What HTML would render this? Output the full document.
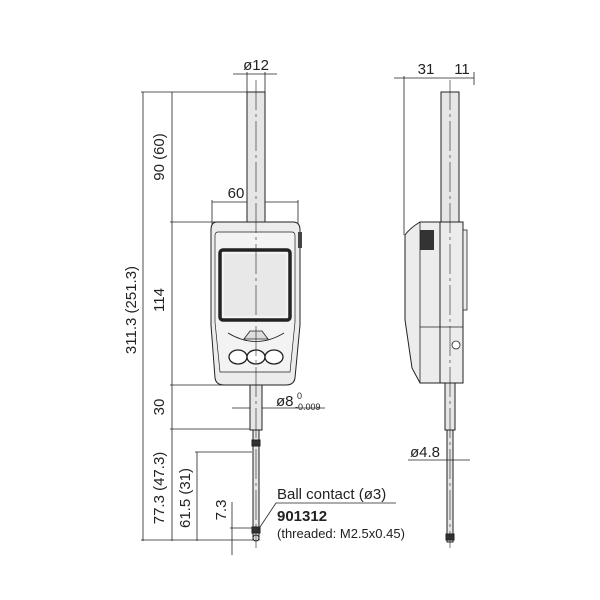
<!DOCTYPE html>
<html><head><meta charset="utf-8"><style>body{margin:0;background:#fff}svg{display:block}text{font-family:"Liberation Sans",sans-serif;fill:#222}</style></head><body>
<svg width="600" height="600" viewBox="0 0 600 600" stroke="#222" fill="none" stroke-width="1">
<!-- FRONT VIEW -->
<!-- dim lines -->
<line x1="143" y1="92" x2="143" y2="541" stroke-width="0.8"/>
<line x1="172" y1="92" x2="172" y2="541" stroke-width="0.8"/>
<line x1="141" y1="92" x2="265" y2="92" stroke-width="0.8"/>
<line x1="170" y1="222" x2="250" y2="222" stroke-width="0.8"/>
<line x1="170" y1="385" x2="250" y2="385" stroke-width="0.8"/>
<line x1="170" y1="429" x2="252" y2="429" stroke-width="0.8"/>
<line x1="141" y1="540" x2="258" y2="540" stroke-width="0.8"/>
<line x1="197" y1="452" x2="197" y2="541" stroke-width="0.8"/>
<line x1="195" y1="452" x2="252" y2="452" stroke-width="0.8"/>
<line x1="232" y1="502" x2="232" y2="555" stroke-width="0.8"/>
<line x1="230" y1="528" x2="255" y2="528" stroke-width="0.8"/>
<line x1="247" y1="72" x2="247" y2="92" stroke-width="0.8"/>
<line x1="265" y1="72" x2="265" y2="92" stroke-width="0.8"/>
<line x1="233" y1="74" x2="277" y2="74" stroke-width="0.8"/>
<line x1="212" y1="200" x2="212" y2="225" stroke-width="0.8"/>
<line x1="298" y1="200" x2="298" y2="225" stroke-width="0.8"/>
<line x1="212" y1="202" x2="298" y2="202" stroke-width="0.8"/>
<line x1="232" y1="408" x2="325" y2="408" stroke-width="0.8"/>
<!-- spindle -->
<rect x="247" y="92" width="18" height="130" fill="#e6e6e6"/>
<!-- body -->
<path d="M217 222 H293 Q300 222 300 230 V325 L295 378 Q294 385 286 385 H224 Q216 385 215 378 L211 325 V230 Q211 222 217 222Z" fill="#ececec"/>
<path d="M218 232 H292 Q295 232 295 236 V322 L290 372 H220 L215 322 V236 Q215 232 218 232Z" fill="#f3f3f3" stroke-width="0.7"/>
<rect x="220" y="250" width="70" height="70" fill="none" stroke-width="3.5" rx="3"/>
<rect x="224" y="254" width="62" height="62" fill="#e8e8e8" stroke="none"/>
<rect x="298" y="232" width="4" height="16" fill="#444" stroke="none"/>
<path d="M228 333 Q256 350 284 333" stroke-width="0.8"/>
<path d="M244 339 L250 331 H262 L268 339Z" fill="#ddd" stroke-width="0.8"/>
<ellipse cx="238" cy="357" rx="9" ry="7" fill="#fff" stroke-width="1.3"/>
<ellipse cx="256" cy="357" rx="9" ry="7" fill="#fff" stroke-width="1.3"/>
<ellipse cx="274" cy="357" rx="9" ry="7" fill="#fff" stroke-width="1.3"/>
<!-- lower -->
<rect x="250" y="385" width="12" height="45" fill="#e6e6e6"/>
<rect x="253" y="430" width="6" height="110" fill="#e6e6e6"/>
<rect x="252" y="440" width="8" height="6" fill="#333"/>
<rect x="252" y="527" width="8" height="6" fill="#333"/>
<circle cx="256" cy="538" r="3" fill="#e6e6e6"/>
<line x1="256" y1="80" x2="256" y2="548" stroke-width="0.6" stroke-dasharray="30 4 3 4"/>
<!-- leader -->
<line x1="258" y1="530" x2="276" y2="503" stroke-width="0.8"/>
<line x1="276" y1="503" x2="396" y2="503" stroke-width="0.8"/>
<!-- SIDE VIEW -->
<line x1="404" y1="76" x2="404" y2="235" stroke-width="0.8"/>
<line x1="474" y1="72" x2="474" y2="85" stroke-width="0.8"/>
<line x1="394" y1="78" x2="474" y2="78" stroke-width="0.8"/>
<rect x="441" y="92" width="18" height="130" fill="#e6e6e6"/>
<path d="M420 222 H440 V383 H420 L412 368 L405 320 V235 Q410 228 420 222Z" fill="#ececec"/>
<rect x="440" y="222" width="23" height="161" fill="#ececec"/>
<rect x="420" y="230" width="14" height="20" fill="#333" stroke="none"/>
<rect x="463" y="230" width="4" height="80" fill="#ececec" stroke-width="0.8"/>
<line x1="420" y1="327" x2="463" y2="327" stroke-width="0.8"/>
<line x1="420" y1="222" x2="420" y2="383" stroke-width="0.8"/>
<circle cx="456" cy="345" r="4" fill="#fff" stroke-width="0.8"/>
<rect x="445" y="383" width="10" height="47" fill="#e6e6e6"/>
<rect x="447" y="430" width="6" height="112" fill="#e6e6e6"/>
<rect x="446" y="534" width="8" height="6" fill="#333"/>
<line x1="450" y1="80" x2="450" y2="548" stroke-width="0.6" stroke-dasharray="30 4 3 4"/>
<line x1="408" y1="460" x2="470" y2="460" stroke-width="0.8"/>
<!-- TEXT -->
<g stroke="none">
<text x="256" y="70" font-size="15" text-anchor="middle">ø12</text>
<text x="236" y="198" font-size="15" text-anchor="middle">60</text>
<text transform="translate(164,157) rotate(-90)" font-size="15" text-anchor="middle">90 (60)</text>
<text transform="translate(164,300) rotate(-90)" font-size="15" text-anchor="middle">114</text>
<text transform="translate(136,310) rotate(-90)" font-size="15" text-anchor="middle">311.3 (251.3)</text>
<text transform="translate(164,407) rotate(-90)" font-size="15" text-anchor="middle">30</text>
<text transform="translate(164,488) rotate(-90)" font-size="15" text-anchor="middle">77.3 (47.3)</text>
<text transform="translate(190,498) rotate(-90)" font-size="15" text-anchor="middle">61.5 (31)</text>
<text transform="translate(226,510) rotate(-90)" font-size="15" text-anchor="middle">7.3</text>
<text x="276" y="406" font-size="15">ø8</text>
<text x="297" y="399" font-size="9">0</text>
<text x="295" y="410" font-size="9">-0.009</text>
<text x="277" y="499" font-size="15">Ball contact (ø3)</text>
<text x="277" y="521" font-size="15" font-weight="bold">901312</text>
<text x="277" y="538" font-size="13">(threaded: M2.5x0.45)</text>
<text x="426" y="74" font-size="15" text-anchor="middle">31</text>
<text x="462" y="74" font-size="15" text-anchor="middle">11</text>
<text x="410" y="457" font-size="15">ø4.8</text>
</g>
</svg>
</body></html>
